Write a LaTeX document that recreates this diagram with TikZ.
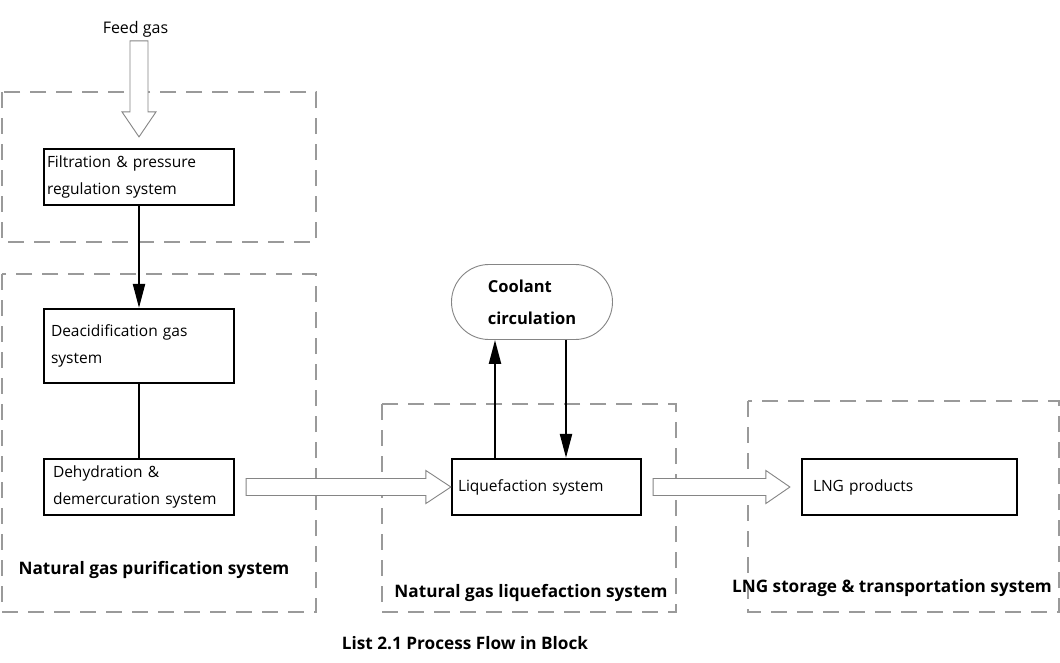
\documentclass[tikz,border=0pt]{standalone}
\usepackage{fontspec}
\setmainfont{Open Sans}
\usetikzlibrary{calc,arrows.meta,shapes.misc}
\definecolor{zonegray}{HTML}{9A9A9A}
\definecolor{arrowgray}{HTML}{858585}
\begin{document}
\begin{tikzpicture}[x=1pt,y=-1pt,
  zone/.style={draw=zonegray,line width=1.1pt,dash pattern=on 16pt off 10pt},
  stepbox/.style={draw=black,line width=2.2pt,align=left,inner ysep=0pt,
    font=\fontsize{15.5}{27}\selectfont},
  hollow/.style={draw=arrowgray,line width=0.9pt,fill=white,line join=miter},
  flow/.style={draw=black,line width=2.2pt,-{Triangle[length=24pt,width=12pt]}},
  link/.style={draw=black,line width=2.2pt},
  zonelabel/.style={font=\fontsize{17.2}{20}\selectfont\bfseries},
]
\useasboundingbox (0,0) rectangle (1060,662);
\fill[white] (0,0) rectangle (1060,662);

% zones
\draw[zone] (2,92) rectangle (316,242);
\draw[zone] (2,274) rectangle (316,612);
\draw[zone] (382,404) rectangle (676,612);
\draw[zone] (748,401) rectangle (1059,612);

% nodes
\node[font=\fontsize{16}{19}\selectfont] (feed) at (135.5,29) {Feed gas};
\node[stepbox,text width=184pt,inner xsep=3pt,minimum height=56pt] (filt) at (139,177)
  {Filtration \& pressure\\regulation system};
\node[stepbox,text width=176pt,inner xsep=7pt,minimum height=74pt] (deac) at (139,346)
  {Deacidification gas\\system};
\node[stepbox,text width=172pt,inner xsep=9pt,minimum height=56pt] (dehy) at (139,487)
  {Dehydration \&\\demercuration system};
\node[stepbox,text width=177pt,inner xsep=6pt,minimum height=56pt] (liq) at (546.5,487)
  {Liquefaction system};
\node[stepbox,text width=193pt,inner xsep=11pt,minimum height=56pt] (lng) at (909.5,487)
  {LNG products};
\node[rounded rectangle,draw=arrowgray,line width=0.9pt,minimum width=161pt,
  minimum height=75pt,inner sep=0pt,align=left,
  font=\fontsize{16.5}{32}\selectfont\bfseries] (cool) at (532,302)
  {Coolant\\circulation};

% labels
\node[zonelabel] (lab1) at (154,570) {Natural gas purification system};
\node[zonelabel] (lab2) at (531,593) {Natural gas liquefaction system};
\node[zonelabel] (lab3) at (892,588) {LNG storage \& transportation system};
\node[zonelabel] (cap) at (465,643) {List 2.1 Process Flow in Block};

% feed hollow arrow (down)
\draw[hollow] ($(filt.north)+(-9,-107)$) -- ($(filt.north)+(-9,-36)$) -- ($(filt.north)+(-17,-36)$)
  -- ($(filt.north)+(0,-11)$) -- ($(filt.north)+(17,-36)$) -- ($(filt.north)+(9,-36)$)
  -- ($(filt.north)+(9,-107)$) -- cycle;

% hollow arrow dehydration -> liquefaction
\draw[hollow] ($(dehy.east)+(11,-8.5)$) -- ($(liq.west)+(-25,-8.5)$) -- ($(liq.west)+(-25,-16.5)$)
  -- (liq.west) -- ($(liq.west)+(-25,16.5)$) -- ($(liq.west)+(-25,8.5)$)
  -- ($(dehy.east)+(11,8.5)$) -- cycle;

% hollow arrow liquefaction -> LNG products
\draw[hollow] ($(liq.east)+(11,-8.5)$) -- ($(lng.west)+(-35,-8.5)$) -- ($(lng.west)+(-35,-16.5)$)
  -- ($(lng.west)+(-11,0)$) -- ($(lng.west)+(-35,16.5)$) -- ($(lng.west)+(-35,8.5)$)
  -- ($(liq.east)+(11,8.5)$) -- cycle;

% black connectors
\draw[flow] (filt.south) -- (deac.north);
\draw[link] (deac.south) -- (dehy.north);
\draw[flow] ($(liq.north)+(-51.5,0)$) -- ($(cool.south)+(-37,0)$);
\draw[flow] ($(cool.south)+(34,0)$) -- ($(liq.north)+(19.5,0)$);
\end{tikzpicture}
\end{document}
